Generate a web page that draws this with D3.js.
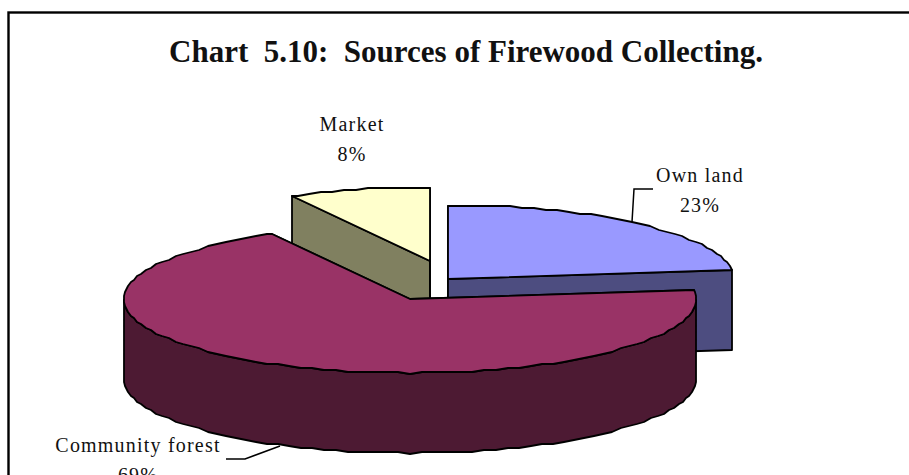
<!DOCTYPE html>
<html>
<head>
<meta charset="utf-8">
<script src="https://cdn.jsdelivr.net/npm/d3@7"></script>
<style>
  html, body { margin: 0; padding: 0; background: #fff; overflow: hidden; }
  svg { display: block; }
  text { font-family: "Liberation Serif", serif; fill: #111; }
</style>
</head>
<body>
<svg id="chart" width="909" height="475"></svg>
<script>
const categories = ["Own land", "Community forest", "Market"];
const shares = [23, 69, 8];
const topColors = ["#9999ff", "#993366", "#ffffcc"];
const sideColors = ["#4d4d80", "#4d1a33", "#808060"];
const chartTitle = "Chart  5.10:  Sources of Firewood Collecting.";

const svg = d3.select("#chart");

// Unit-circle coordinates are squashed into a tilted disc by these two scales.
const radiusX = 286, radiusY = 74, depth = 80;
const px = d3.scaleLinear().domain([-1, 1]).range([-radiusX, radiusX]);
const py = d3.scaleLinear().domain([-1, 1]).range([-radiusY, radiusY]);

const pie = d3.pie().sort(null).value(d => d);
const arcs = pie(shares);

// Each slice is pulled away from the middle of the disc by its own offset.
const centres = [
  { x: 448, y: 279 },
  { x: 410, y: 299 },
  { x: 430, y: 261 }
];

const outline = d3.line();
const rimStep = 2.5 * Math.PI / 180;

// A rim point, snapped to a coarse grid as a low-resolution plotter would.
const rimPoint = (c, a) => [
  Math.round(c.x + px(Math.sin(a))),
  Math.round((c.y + py(-Math.cos(a))) / 2) * 2
];

// Rim samples sit on a fixed angular grid so neighbouring faces share their edge.
function rim(c, a0, a1) {
  const first = Math.ceil(a0 / rimStep + 1e-6), last = Math.floor(a1 / rimStep - 1e-6);
  const inner = d3.range(first, last + 1).map(k => k * rimStep);
  return [a0, ...inner, a1].map(a => rimPoint(c, a));
}

function drawShape(points, fill) {
  svg.append("path")
    .attr("d", outline(points) + "Z")
    .attr("fill", fill)
    .attr("stroke", "#000")
    .attr("stroke-width", 1.8)
    .attr("stroke-linejoin", "round");
}

function drawSlice(i) {
  const a = arcs[i], c = centres[i];
  const [a0, a1] = [a.startAngle, a.endAngle];
  const lift = p => [p[0], p[1] + depth];
  const apex = [c.x, c.y];

  // Cut faces first, then the curved wall, then the top surface.
  drawShape([apex, rimPoint(c, a0), lift(rimPoint(c, a0)), lift(apex)], sideColors[i]);
  drawShape([apex, rimPoint(c, a1), lift(rimPoint(c, a1)), lift(apex)], sideColors[i]);

  // The curved wall only shows across the front half of the rim.
  const wall0 = Math.max(a0, Math.PI / 2), wall1 = Math.min(a1, 3 * Math.PI / 2);
  if (wall1 > wall0) {
    const front = rim(c, wall0, wall1);
    drawShape(front.concat(front.map(lift).reverse()), sideColors[i]);
  }
  drawShape([apex].concat(rim(c, a0, a1)), topColors[i]);
}

// Back slices go down first so the large front slice overlaps them.
[2, 0, 1].forEach(drawSlice);

// Leader lines from the slices to their labels.
const leaders = [
  [[632, 222], [634, 189], [653, 189]],
  [[280, 446], [245, 459], [226, 459]]
];
svg.selectAll("path.leader").data(leaders).join("path")
  .attr("class", "leader")
  .attr("d", d3.line())
  .attr("fill", "none")
  .attr("stroke", "#000")
  .attr("stroke-width", 1.5);

// Slice labels, name above percentage.
const labelAnchors = [[700, 182], [138, 452], [352, 131]];
const labels = svg.selectAll("g.label").data(categories).join("g")
  .attr("class", "label")
  .attr("transform", (d, i) => `translate(${labelAnchors[i]})`);
labels.append("text")
  .attr("text-anchor", "middle")
  .attr("font-size", 20)
  .attr("letter-spacing", 1.2)
  .text(d => d);
labels.append("text")
  .attr("text-anchor", "middle")
  .attr("y", 30)
  .attr("font-size", 20)
  .attr("letter-spacing", 1.2)
  .text((d, i) => shares[i] + "%");

svg.append("text")
  .attr("x", 466)
  .attr("y", 62)
  .attr("text-anchor", "middle")
  .attr("font-size", 31)
  .attr("font-weight", "bold")
  .style("white-space", "pre")
  .text(chartTitle);

// Outer frame; its right and lower edges run past the page.
svg.append("rect")
  .attr("x", 8.5).attr("y", 12.5)
  .attr("width", 960).attr("height", 540)
  .attr("fill", "none")
  .attr("stroke", "#000")
  .attr("stroke-width", 2.4);
</script>
</body>
</html>
